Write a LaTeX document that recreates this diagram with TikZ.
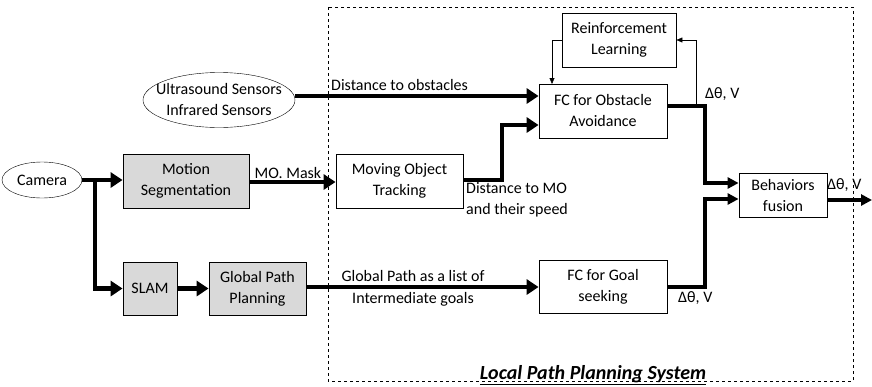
\documentclass[tikz,border=0pt]{standalone}
\usepackage{fontspec}
\setmainfont{Carlito}
\usetikzlibrary{arrows.meta,shapes.geometric}
\begin{document}
\begin{tikzpicture}[x=1pt,y=-1pt,
  font=\fontsize{16}{21}\selectfont,
  blockw/.style={draw,thick,fill=white,align=center,inner sep=0pt},
  blockg/.style={blockw,fill=black!15},
  oval/.style={draw,thin,ellipse,align=center,inner sep=0pt},
  flow/.style={line width=4.5pt,-{Triangle[length=12pt,width=15pt]}},
  flowr/.style={line width=4.5pt,-{Triangle[length=11pt,width=11pt]}},
  feed/.style={thin,-{Triangle[length=6pt,width=5pt]}},
  lbl/.style={inner sep=1pt}
]
\useasboundingbox (0,0) rectangle (872,386);

% system frame
\draw[dashed,thin] (328,7) rectangle (853,381);
\node[anchor=base,font=\fontsize{20}{22}\selectfont\bfseries\itshape] (title) at (593,379)
  {\underline{Local Path Planning System}};

% inputs (the sensor text is wider than its oval, so it is set on top)
\node[oval,minimum width=152pt,minimum height=55pt] (us) at (219,100) {};
\node[align=center,inner sep=0pt] (ustext) at (us.center)
  {Ultrasound Sensors\\Infrared Sensors};
\node[oval,minimum width=80pt,minimum height=36pt] (cam) at (42,180) {Camera};

% blocks
\node[blockg,minimum width=126pt,minimum height=54pt] (ms) at (186,181)
  {Motion\\Segmentation};
\node[blockg,minimum width=54pt,minimum height=53pt] (slam) at (150,288.5) {SLAM};
\node[blockg,minimum width=97pt,minimum height=53pt] (gpp) at (257.5,288.5)
  {Global Path\\Planning};
\node[blockw,minimum width=127pt,minimum height=54pt] (mot) at (399.5,181)
  {Moving Object\\Tracking};
\node[blockw,minimum width=114pt,minimum height=54pt] (rl) at (619,40)
  {Reinforcement\\Learning};
\node[blockw,minimum width=128pt,minimum height=54pt] (fco) at (603,111)
  {FC for Obstacle\\Avoidance};
\node[blockw,minimum width=128pt,minimum height=53pt] (fcg) at (603,286.5)
  {FC for Goal\\seeking};
\node[blockw,minimum width=88pt,minimum height=44pt] (bf) at (783,195)
  {Behaviors\\fusion};

% routing points
\coordinate (split) at (95,180);
\coordinate (out) at (872,200);

% camera branches
\draw[line width=4.5pt] (cam.east) -- (split);
\draw[flow] (split) -- (ms.west |- split);
\draw[flow] (split) |- (slam.west);
\draw[flow] (slam.east) -- (gpp.west);

% sensor and tracking flows
\draw[flow] (us.east |- 0,96) -- (fco.west |- 0,96);
\node[lbl,anchor=south west] (lobs) at (330,92) {Distance to obstacles};
\draw[flow] (ms.east |- 0,182) -- (mot.west |- 0,182)
  node[lbl,pos=0,anchor=south west,xshift=2pt] (lmask) {MO. Mask};
\draw[flow] (mot.east |- 0,180) -- (502,180) |- (fco.west |- 0,125);
\node[lbl,anchor=north west,align=left] (lmo) at (465,181)
  {Distance to MO\\and their speed};
\draw[flow] (gpp.east |- 0,287) -- (fcg.west |- 0,287);
\node[lbl,anchor=south] (lgp1) at (413,283) {Global Path as a list of};
\node[lbl,anchor=north] (lgp2) at (413,291) {Intermediate goals};

% reinforcement learning loop
\draw[feed] (696,106) |- (rl.east);
\draw[feed] (rl.west) -| (552,84);

% to fusion
\draw[flowr] (fco.east |- 0,106) -| (705,183) -- (bf.west |- 0,183);
\node[lbl,anchor=south west] (ldo) at (704,102) {Δθ, V};
\draw[flowr] (fcg.east |- 0,287) -| (705,199) -- (bf.west |- 0,199);
\node[lbl,anchor=north west] (ldg) at (677,290) {Δθ, V};
\draw[flowr] (bf.east |- out) -- (out);
\node[lbl,anchor=south west] (ldb) at (826,193) {Δθ, V};
\end{tikzpicture}
\end{document}
